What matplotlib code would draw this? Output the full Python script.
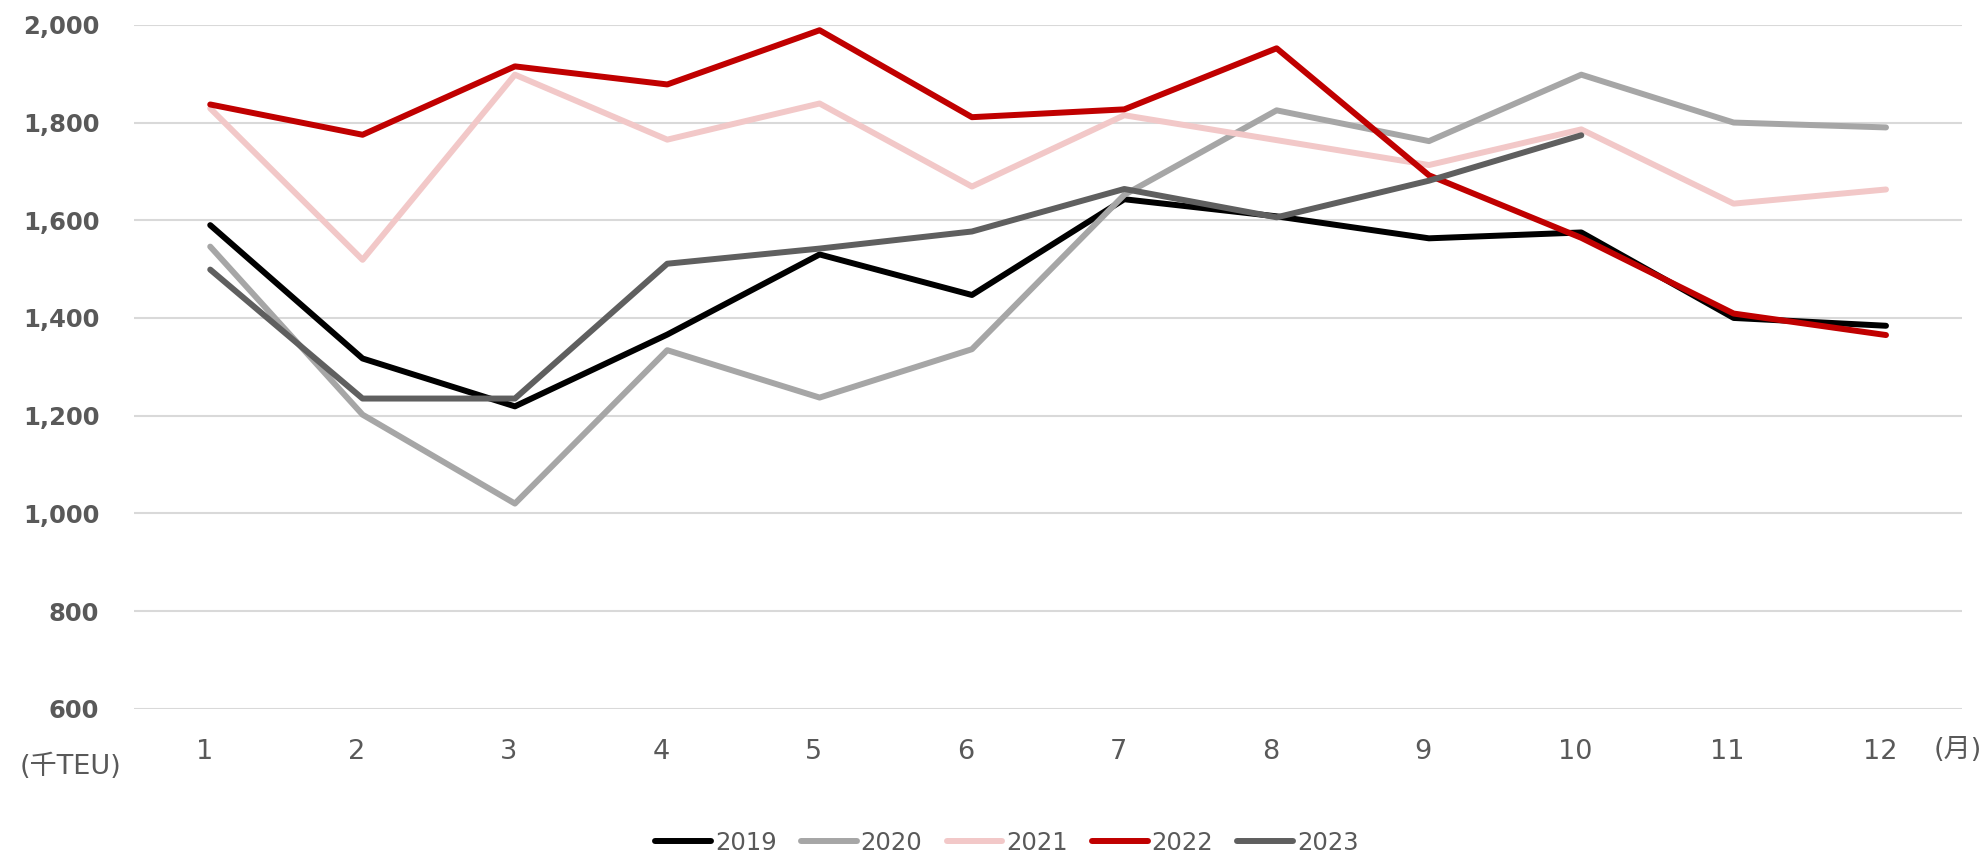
import numpy as np
import matplotlib.transforms as mtrans
from matplotlib import pyplot as plt

plt.rcParams['font.family'] = ['DejaVu Sans', 'Noto Sans CJK JP']

months = [1, 2, 3, 4, 5, 6, 7, 8, 9, 10, 11, 12]

y2019 = [1590, 1317, 1219, 1366, 1530, 1447, 1643, 1608, 1563, 1575, 1400, 1384]
y2020 = [1546, 1202, 1020, 1334, 1237, 1336, 1652, 1825, 1762, 1898, 1800, 1790]
y2021 = [1829, 1519, 1898, 1765, 1839, 1669, 1815, 1764, 1713, 1786, 1634, 1663]
y2022 = [1837, 1775, 1915, 1878, 1989, 1811, 1827, 1952, 1692, 1564, 1409, 1365]
y2023 = [1499, 1235, 1235, 1511, 1542, 1577, 1664, 1606, 1681, 1774]

series = [
    ('2019', y2019, '#000000'),
    ('2020', y2020, '#A6A6A6'),
    ('2021', y2021, '#F2C8C8'),
    ('2022', y2022, '#C00000'),
    ('2023', y2023, '#5F5F5F'),
]

fig = plt.figure(figsize=(19.86, 8.57), dpi=100)
ax = fig.add_axes([0.0675, 0.173, 0.9205, 0.798])

for name, vals, col in series:
    ax.plot(months[:len(vals)], vals, color=col, lw=4.3, label=name,
            solid_capstyle='round', solid_joinstyle='round')

ax.set_xlim(0.5, 12.5)
ax.set_ylim(600, 2000)
ax.set_yticks(np.arange(600, 2001, 200))
ax.set_yticklabels(['{:,}'.format(v) for v in range(600, 2001, 200)],
                   fontsize=17.5, fontweight='bold', color='#595959')
ax.set_xticks(months)
ax.set_xticklabels([str(m) for m in months], fontsize=19.5, color='#595959')
ax.tick_params(axis='y', length=0, pad=25)
ax.tick_params(axis='x', length=0, pad=22)
ax.grid(axis='y', color='#D9D9D9', lw=1.5)
ax.set_axisbelow(True)
for s in ax.spines.values():
    s.set_visible(False)

# excel puts the category labels a little left of the points
shift = mtrans.ScaledTranslation(-6 / 100, 0, fig.dpi_scale_trans)
for lab in ax.get_xticklabels():
    lab.set_transform(lab.get_transform() + shift)

fig.text(20 / 1986, 1 - 767 / 857, '(千TEU)', fontsize=19.5, color='#595959',
         va='center', ha='left')
fig.text(1982 / 1986, 1 - 750 / 857, '(月)', fontsize=19.5, color='#595959',
         va='center', ha='right')

fig.legend(loc='center', bbox_to_anchor=(1007 / 1986, 1 - 843 / 857), ncol=5,
           frameon=False, fontsize=17.5, labelcolor='#595959', handlelength=2.3,
           handletextpad=0.15, columnspacing=1.0)

fig.savefig('out.png', dpi=100)
